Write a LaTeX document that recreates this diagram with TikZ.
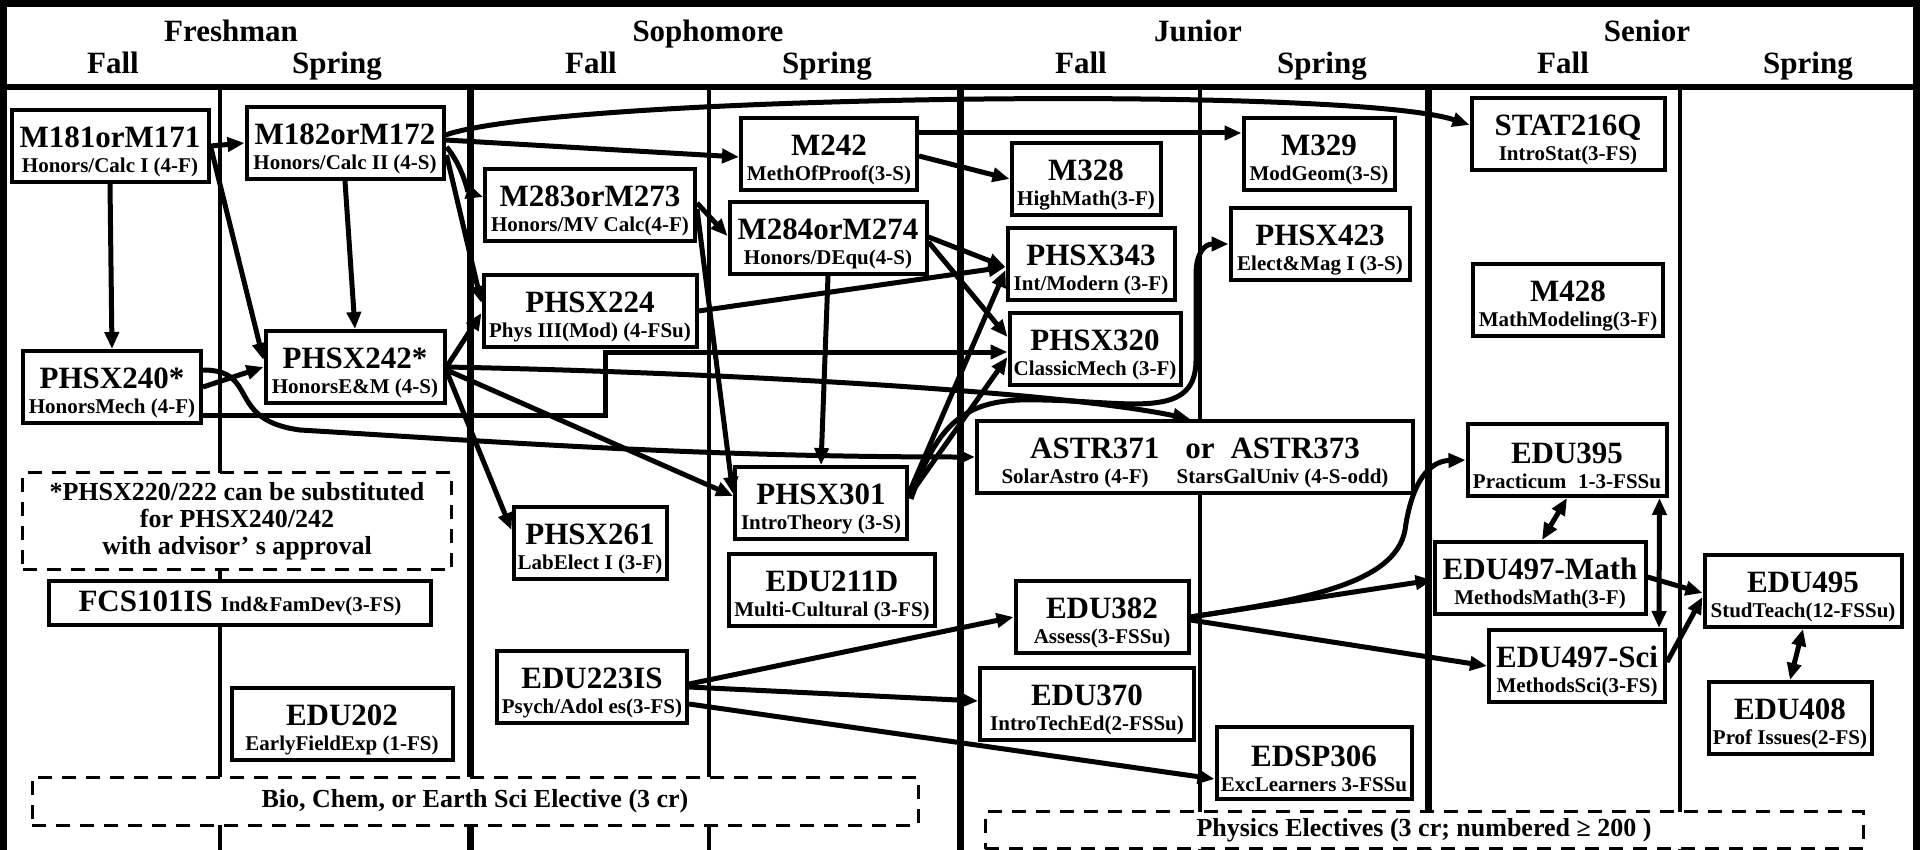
\documentclass[tikz,border=0pt]{standalone}
\usepackage{fontspec}
\setmainfont{Liberation Serif}
\usetikzlibrary{arrows.meta,calc,backgrounds,positioning}
\tikzset{>={Triangle[length=8.5pt,width=7pt]}}
\tikzset{
  crsbox/.style={draw, line width=2pt, fill=white, align=center,
    inner xsep=2pt, inner ysep=0pt,
    font=\bfseries\fontsize{15.5}{12.5}\selectfont},
  course/.style={crsbox, minimum height=36pt,
    execute at begin node={\rule{0pt}{28.5pt}}},
  dashbox/.style={draw, line width=1.5pt, dash pattern=on 7pt off 5pt,
    fill=white, align=center, font=\bfseries\fontsize{13}{13.5}\selectfont},
  link/.style={line width=2.5pt},
  yearlabel/.style={anchor=base, font=\bfseries\fontsize{15.5}{16}\selectfont},
  semdiv/.style={line width=2pt},
  yeardiv/.style={line width=3.5pt},
}
\newcommand{\crsinfo}[1]{{\fontsize{10.5}{12.5}\selectfont #1}}

\begin{document}
\begin{tikzpicture}[x=0.5pt,y=-0.5pt]
            \useasboundingbox (0,0) rectangle (1920,850);
            % header
            \node[yearlabel] (fresh) at (231,42) {Freshman};
            \node[yearlabel] (soph) at (708,42) {Sophomore};
            \node[yearlabel] (jun) at (1198,42) {Junior};
            \node[yearlabel] (sen) at (1647,42) {Senior};
            \node[yearlabel] (fall1) at (113,74) {Fall};
            \node[yearlabel] (spr1) at (337,74) {Spring};
            \node[yearlabel] (fall2) at (591,74) {Fall};
            \node[yearlabel] (spr2) at (827,74) {Spring};
            \node[yearlabel] (fall3) at (1081,74) {Fall};
            \node[yearlabel] (spr3) at (1322,74) {Spring};
            \node[yearlabel] (fall4) at (1563,74) {Fall};
            \node[yearlabel] (spr4) at (1808,74) {Spring};
            % freshman
            \node[course, minimum width=98.5pt] (m181) at (110,146) {M181orM171\\\crsinfo{Honors/Calc I (4-F)}};
            \node[course, minimum width=89pt] (phsx240) at (112,387) {PHSX240*\\\crsinfo{HonorsMech (4-F)}};
            \node[course, minimum width=98.5pt] (m182) at (345,143) {M182orM172\\\crsinfo{Honors/Calc II (4-S)}};
            \node[course, minimum width=89.5pt] (phsx242) at (355,367) {PHSX242*\\\crsinfo{HonorsE\&M (4-S)}};
            \node[dashbox, minimum width=214.5pt, minimum height=48.5pt] (subnote) at (237,521) {*PHSX220/222 can be substituted\\for PHSX240/242\\with advisor’ s approval};
            \node[crsbox, minimum width=191pt, minimum height=22pt] (fcs101) at (240,603) {FCS101IS \crsinfo{Ind\&FamDev(3-FS)}};
            \node[course, minimum width=110.5pt] (edu202) at (342,724) {EDU202\\\crsinfo{EarlyFieldExp (1-FS)}};
            \node[dashbox, minimum width=443pt, minimum height=24pt] (bioelec) at (475,801) {Bio, Chem, or Earth Sci Elective (3 cr)};
            % sophomore
            \node[course, minimum width=105pt] (m283) at (590,205) {M283orM273\\\crsinfo{Honors/MV Calc(4-F)}};
            \node[course, minimum width=106.5pt] (phsx224) at (590,311) {PHSX224\\\crsinfo{Phys III(Mod) (4-FSu)}};
            \node[course, minimum width=76.5pt] (phsx261) at (590,543) {PHSX261\\\crsinfo{LabElect I (3-F)}};
            \node[course, minimum width=95pt] (edu223) at (592,687) {EDU223IS\\\crsinfo{Psych/Adol es(3-FS)}};
            \node[course, minimum width=88pt] (m242) at (829,154) {M242\\\crsinfo{MethOfProof(3-S)}};
            \node[course, minimum width=98.5pt] (m284) at (828,238) {M284orM274\\\crsinfo{Honors/DEqu(4-S)}};
            \node[course, minimum width=86pt] (phsx301) at (821,503) {PHSX301\\\crsinfo{IntroTheory (3-S)}};
            \node[course, minimum width=103pt] (edu211) at (832,590) {EDU211D\\\crsinfo{Multi-Cultural (3-FS)}};
            % junior
            \node[course, minimum width=74.5pt] (m328) at (1086,179) {M328\\\crsinfo{HighMath(3-F)}};
            \node[course, minimum width=83.5pt] (phsx343) at (1091,264) {PHSX343\\\crsinfo{Int/Modern (3-F)}};
            \node[course, minimum width=85.5pt] (phsx320) at (1095,349) {PHSX320\\\crsinfo{ClassicMech (3-F)}};
            \node[course, minimum width=218pt] (astr) at (1195,457) {ASTR371\hspace{13pt}or\hspace{8pt}ASTR373\\\crsinfo{SolarAstro (4-F)\hspace{14pt}StarsGalUniv (4-S-odd)}};
            \node[course, minimum width=86.5pt] (edu382) at (1102,617) {EDU382\\\crsinfo{Assess(3-FSSu)}};
            \node[course, minimum width=107pt] (edu370) at (1087,704) {EDU370\\\crsinfo{IntroTechEd(2-FSSu)}};
            \node[course, minimum width=75.5pt] (m329) at (1319,154) {M329\\\crsinfo{ModGeom(3-S)}};
            \node[course, minimum width=89.5pt] (phsx423) at (1320,244) {PHSX423\\\crsinfo{Elect\&Mag I (3-S)}};
            \node[course, minimum width=97.5pt] (edsp306) at (1314,763) {EDSP306\\\crsinfo{ExcLearners 3-FSSu}};
            \node[dashbox, minimum width=439pt, minimum height=16pt] (physelec) at (1424,830) {Physics Electives (3 cr; numbered ≥ 200 )};
            % senior
            \node[course, minimum width=96.5pt] (stat216) at (1568,134) {STAT216Q\\\crsinfo{IntroStat(3-FS)}};
            \node[course, minimum width=95pt] (m428) at (1568,300) {M428\\\crsinfo{MathModeling(3-F)}};
            \node[course, minimum width=99.5pt] (edu395) at (1567,460) {EDU395\\\crsinfo{Practicum\hspace{6pt}1-3-FSSu}};
            \node[course, minimum width=105.5pt] (edu497m) at (1540,578) {EDU497-Math\\\crsinfo{MethodsMath(3-F)}};
            \node[course, minimum width=88pt] (edu497s) at (1577,666) {EDU497-Sci\\\crsinfo{MethodsSci(3-FS)}};
            \node[course, minimum width=98.5pt] (edu495) at (1803,591) {EDU495\\\crsinfo{StudTeach(12-FSSu)}};
            \node[course, minimum width=81.5pt] (edu408) at (1790,718) {EDU408\\\crsinfo{Prof Issues(2-FS)}};
            % grid
            \begin{scope}[on background layer]
              \draw[line width=3.5pt] (3.5,850) -- (3.5,4) -- (1916.5,4) -- (1916.5,850);
              \draw[line width=3pt] (0,87) -- (1920,87);
              \draw[semdiv] (220,87) -- (220,850);
              \draw[yeardiv] (470,87) -- (470,850);
              \draw[semdiv] (709,87) -- (709,850);
              \draw[yeardiv] (960,87) -- (960,850);
              \draw[semdiv] (1200,87) -- (1200,850);
              \draw[yeardiv] (1428,87) -- (1428,850);
              \draw[semdiv] (1680,87) -- (1680,850);
            \end{scope}
            % prerequisites
            \draw[link,->] (m181.east) -- (m182.west);
            \draw[link,->] (m181.south) -- (phsx240.north);
            \draw[link,->] (m181.east) -- ($(phsx242.west)+(0,-7)$);
            \draw[link,->] (m182.south) -- (phsx242.north);
            \draw[link,->] (phsx240.east) -- (phsx242.west);
            \draw[link,->] ($(phsx240.east)+(0,-17)$) .. controls (260,370) and (225,420) .. (300,430) .. controls (500,442) and (700,457) .. (astr.west);
            \draw[link,->] ($(phsx240.east)+(0,28)$) -| (605,352) -- ($(phsx320.west)+(0,3)$);
            \draw[link,->] ($(m182.east)+(0,-8)$) .. controls (560,95) and (1350,85) .. ($(stat216.west)+(0,-9)$);
            \draw[link,->] ($(m182.east)+(0,-3)$) -- ($(m242.west)+(0,3)$);
            \draw[link,->] ($(m182.east)+(1,4)$) .. controls (462,165) and (468,192) .. ($(m283.west)+(0,-8)$);
            \draw[link,->] ($(m182.east)+(1,12)$) -- ($(phsx224.west)+(0,-8)$);
            \draw[link,->] (phsx242.east) -- ($(phsx224.west)+(0,2)$);
            \draw[link,->] ($(phsx242.east)+(0,4)$) -- ($(phsx261.west)+(0,-13)$);
            \draw[link,->] ($(phsx242.east)+(0,3)$) -- ($(phsx301.west)+(0,-7)$);
            \draw[link,->] (phsx242.east) .. controls (700,372) and (1050,390) .. ($(astr.north)+(-5,0)$);
            \draw[link,->] ($(m283.east)+(0,-2)$) -- ($(m284.west)+(0,-2)$);
            \draw[link,->] ($(m283.east)+(0,4)$) -- ($(phsx301.west)+(0,-9)$);
            \draw[link,->] (m284.south) -- (phsx301.north);
            \draw[link,->] ($(m242.east)+(0,2)$) -- (m328.west);
            \draw[link,->] ($(m242.east)+(0,-21)$) -- ($(m329.west)+(0,-21)$);
            \draw[link,->] (phsx224.east) -- ($(phsx343.west)+(0,3)$);
            \draw[link,->] ($(m284.east)+(0,-1)$) -- ($(phsx343.west)+(0,3)$);
            \draw[link,->] ($(m284.east)+(0,4)$) -- ($(phsx320.west)+(0,-12)$);
            \draw[link,->] ($(phsx301.east)+(0,-10)$) -- ($(phsx343.west)+(0,6)$);
            \draw[link,->] ($(phsx301.east)+(0,-7)$) -- ($(phsx320.west)+(0,8)$);
            \draw[link,->] ($(phsx301.east)+(2,-4)$) .. controls (935,430) and (960,402) .. (1020,400) .. controls (1120,398) and (1196,425) .. (1196,360) -- (1196,275) .. controls (1196,252) and (1205,244) .. (phsx423.west);
            \draw[link,->] ($(edu223.east)+(0,-3)$) -- (edu382.west);
            \draw[link,->] (edu223.east) -- ($(edu370.west)+(0,-3)$);
            \draw[link,->] ($(edu223.east)+(0,17)$) -- ($(edsp306.west)+(0,16)$);
            \draw[link,->] (edu382.east) .. controls (1300,600) and (1395,585) .. (1405,530) .. controls (1412,480) and (1430,461) .. (edu395.west);
            \draw[link,->] (edu382.east) -- ($(edu497m.west)+(0,2)$);
            \draw[link,->] ($(edu382.east)+(0,3)$) -- (edu497s.west);
            \draw[link,<->] (edu395.south) -- ($(edu497m.north)+(2,0)$);
            \draw[link,<->] ($(edu395.south east)+(-9,0)$) -- ($(edu497s.north east)+(-8,0)$);
            \draw[link,->] ($(edu497m.east)+(0,-1)$) -- ($(edu495.west)+(0,2)$);
            \draw[link,->] ($(edu497s.east)+(0,-4)$) -- ($(edu495.west)+(0,6)$);
            \draw[link,<->] (edu495.south) -- (edu408.north);
\end{tikzpicture}
\end{document}
